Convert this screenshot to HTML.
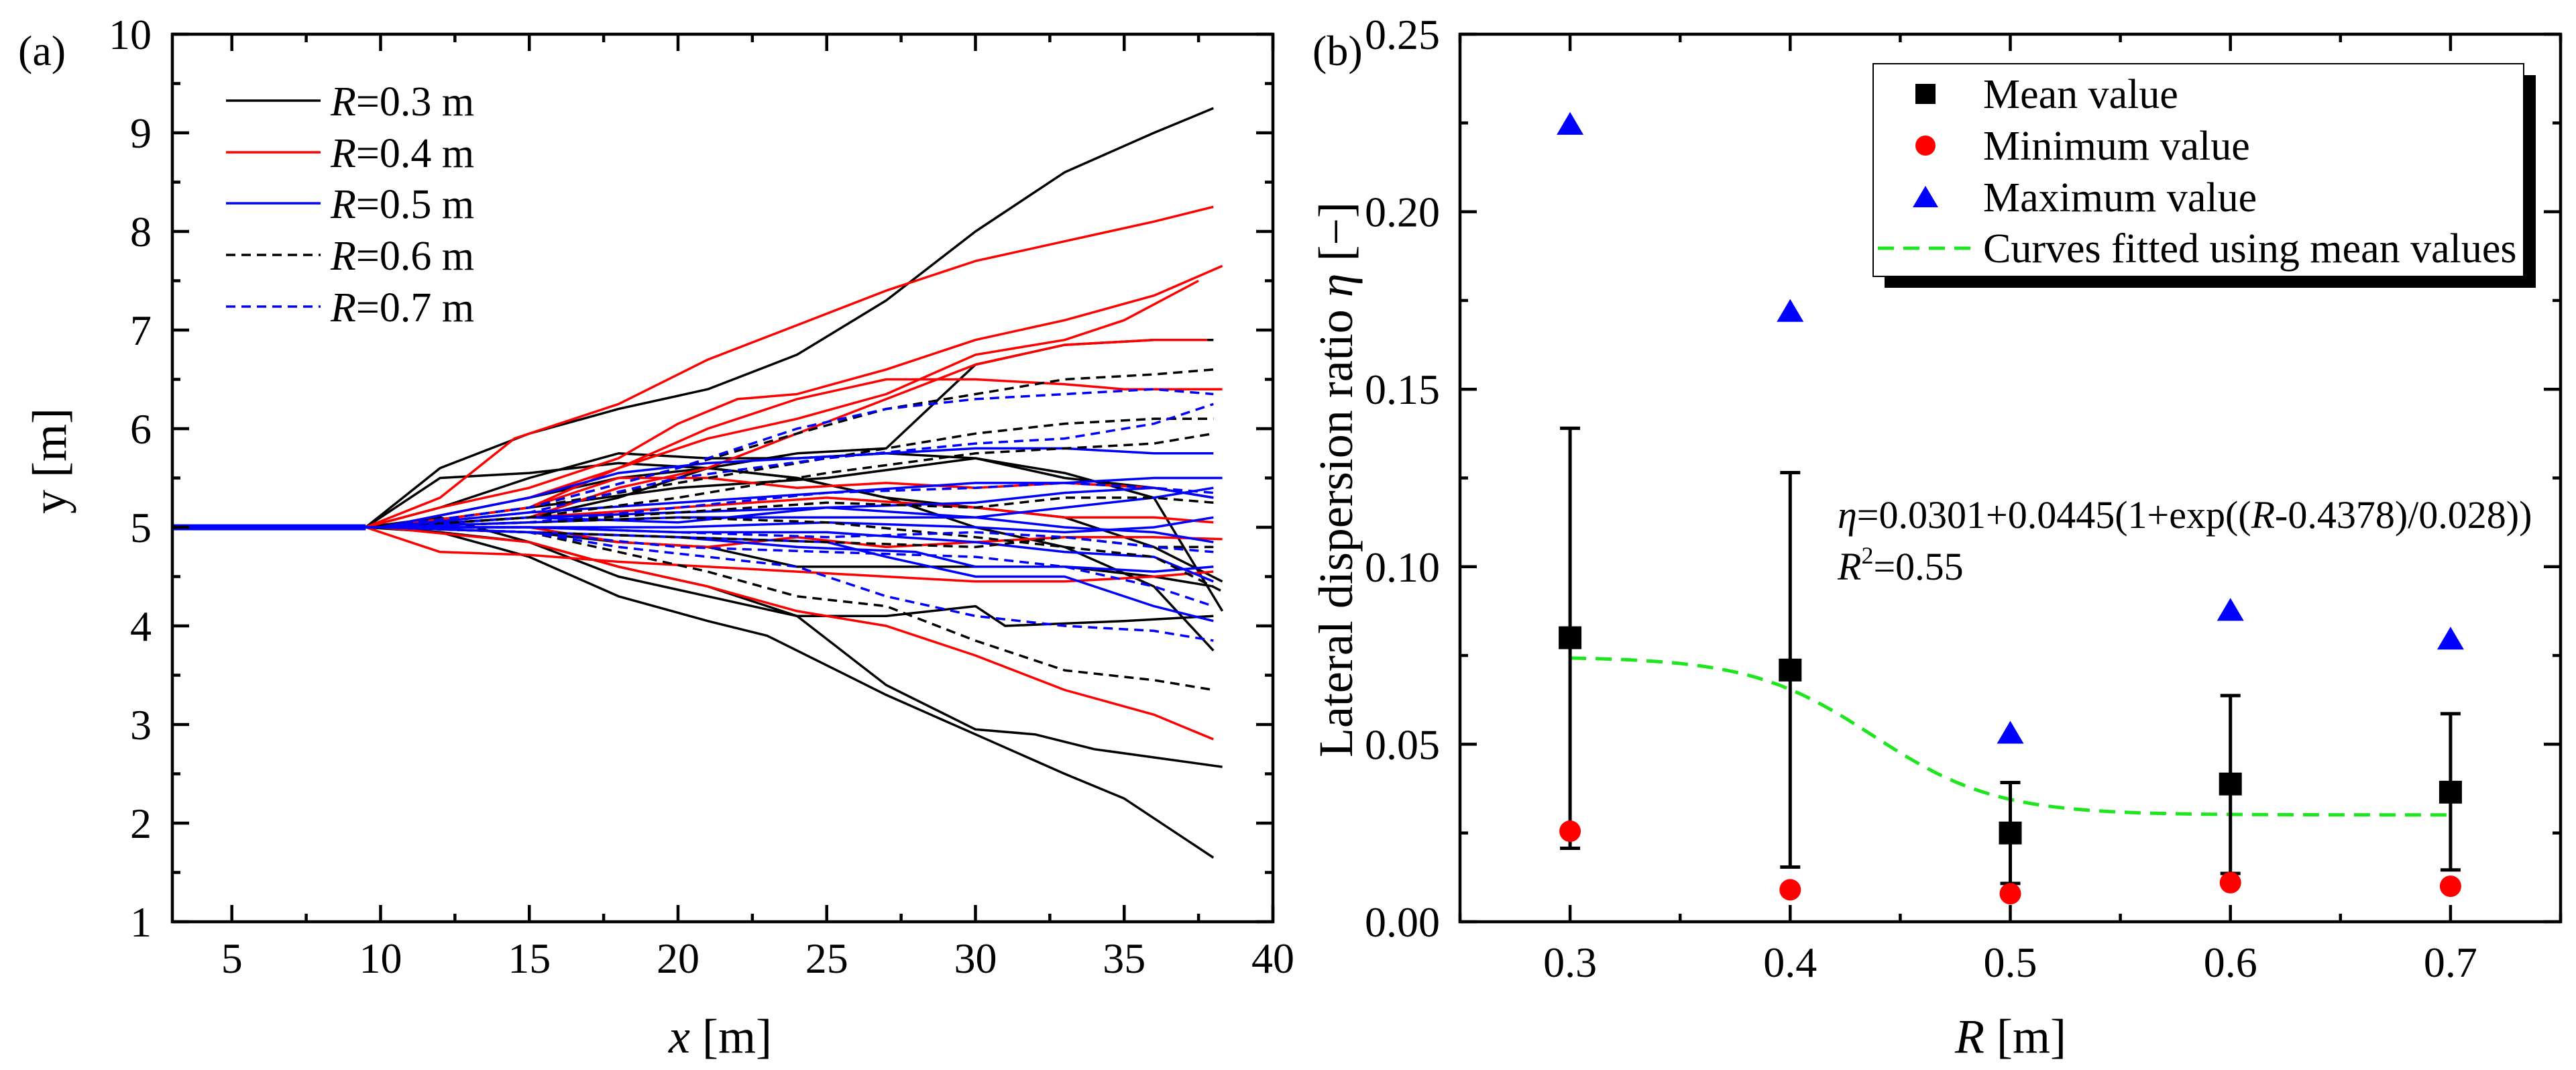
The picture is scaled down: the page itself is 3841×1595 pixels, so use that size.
<!DOCTYPE html>
<html><head><meta charset="utf-8"><style>
html,body{margin:0;padding:0;background:#fff;}
svg{display:block;font-family:"Liberation Serif",serif;}
</style></head><body>
<svg id="fig" width="3841" height="1595" viewBox="0 0 3841 1595" xmlns="http://www.w3.org/2000/svg">
<rect x="0" y="0" width="3841" height="1595" fill="#fff"/>
<g id="pa"></g>
<g id="pb"></g>
</svg>
<script>
// ---------- Panel (a) data: trajectories [x, y] ----------
const blackSolid = [
 [[3,5],[9.5,5],[12,5.6],[15,5.95],[18,6.2],[21,6.4],[24,6.75],[27,7.3],[30,8.0],[33,8.6],[36,9.0],[38,9.25]],
 [[3,5],[9.5,5],[12,4.95],[15,4.7],[18,4.3],[21,4.05],[23,3.9],[27,3.3],[30,2.9],[33,2.5],[35,2.25],[38,1.65]],
 [[3,5],[9.5,5],[12,4.95],[15,4.85],[18,4.5],[21,4.3],[24,4.1],[27,3.4],[30,2.95],[32,2.9],[34,2.75],[38.3,2.57]],
 [[3,5],[9.5,5],[12,5.5],[15,5.55],[18,5.65],[21,5.6],[24,5.75],[27,5.8],[30,6.65],[33,6.85],[36,6.9],[38,6.9]],
 [[3,5],[9.5,5],[12,5.2],[15,5.5],[18,5.75],[21,5.7],[24,5.7],[27,5.75],[30,5.7],[33,5.55],[36,5.3],[38.3,4.15]],
 [[3,5],[9.5,5],[12,5.1],[15,4.85],[18,4.6],[21,4.4],[24,4.1],[27,4.1],[30,4.2],[31,4.0],[35,4.05],[38,4.1]],
 [[3,5],[10,5],[15,5.3],[18,5.5],[21,5.6],[24,5.5],[27,5.3],[30,5.0],[33,4.8],[36,4.4],[38,3.75]],
 [[3,5],[10,5],[15,5.1],[18,5.3],[21,5.6],[24,5.5],[27,5.3],[30,5.2],[33,5.1],[36,4.8],[38.3,4.45]],
 [[3,5],[10,5],[15,4.95],[18,4.85],[21,4.8],[24,4.6],[27,4.6],[30,4.6],[33,4.6],[36,4.5],[38,4.4]],
 [[3,5],[10,5],[15,5.2],[20,5.4],[25,5.5],[30,5.7],[33,5.5],[36,5.4],[38,5.3]]
];
const redSolid = [
 [[3,5],[9.5,5],[12,5.3],[14.5,5.9],[18,6.25],[21,6.7],[24,7.05],[27,7.4],[30,7.7],[33,7.9],[36,8.1],[38,8.25]],
 [[3,5],[9.5,5],[12,5.2],[15,5.4],[18,5.7],[20,6.05],[22,6.3],[24,6.35],[27,6.6],[30,6.9],[33,7.1],[36,7.35],[38.3,7.65]],
 [[3,5],[10,5],[15,5.3],[18,5.6],[21,5.9],[24,6.1],[27,6.35],[30,6.75],[33,6.9],[35,7.1],[37.5,7.5]],
 [[3,5],[10,5],[15,5.2],[18,5.6],[21,6.0],[24,6.3],[27,6.5],[30,6.5],[33,6.45],[35,6.4],[38.3,6.4]],
 [[3,5],[10,5],[15,5.1],[18,5.4],[21,5.6],[24,5.95],[27,6.3],[30,6.65],[33,6.85],[36,6.9],[37.8,6.9]],
 [[3,5],[9.5,5],[12,4.75],[15,4.72],[18,4.65],[21,4.6],[24,4.55],[27,4.5],[30,4.45],[33,4.45],[36,4.5],[38,4.55]],
 [[3,5],[10,5],[15,4.85],[18,4.6],[21,4.4],[24,4.15],[27,4.0],[30,3.7],[33,3.35],[36,3.1],[38,2.85]],
 [[3,5],[10,5],[15,5.2],[18,5.5],[21,5.5],[24,5.4],[27,5.45],[30,5.4],[33,5.45],[36,5.4],[38,5.3]],
 [[3,5],[10,5],[15,5.0],[18,4.85],[21,4.8],[24,4.9],[27,4.8],[30,4.85],[33,4.9],[36,4.9],[38.3,4.88]],
 [[3,5],[10,5],[15,5.1],[20,5.2],[25,5.3],[30,5.2],[33,5.1],[36,5.1],[38,5.05]]
];
const blueSolid = [
 [[3,5],[10,5],[15,5.3],[18,5.55],[21,5.65],[24,5.7],[27,5.75],[30,5.8],[33,5.8],[36,5.75],[38,5.75]],
 [[3,5],[10,5],[15,5.15],[20,5.25],[25,5.35],[30,5.45],[33,5.45],[36,5.5],[38.3,5.5]],
 [[3,5],[10,5],[15,5.1],[20,5.15],[25,5.2],[30,5.25],[33,5.35],[36,5.4],[38,5.3]],
 [[3,5],[10,5],[15,4.95],[20,4.9],[25,4.85],[27,4.7],[30,4.5],[33,4.5],[36,4.2],[38,4.05]],
 [[3,5],[10,5],[15,5.0],[20,4.95],[25,4.95],[30,4.85],[33,4.75],[36,4.7],[38,4.45]],
 [[3,5],[10,5],[15,5.05],[20,5.1],[25,5.1],[30,5.1],[33,5.0],[36,4.95],[38,4.85]],
 [[3,5],[10,5],[15,4.95],[20,4.9],[24,4.8],[28,4.75],[30,4.6],[33,4.6],[36,4.55],[38,4.6]],
 [[3,5],[10,5],[15,5.1],[20,5.05],[25,5.2],[30,5.1],[33,5.2],[36,5.3],[38,5.4]],
 [[3,5],[10,5],[15,5.0],[20,5.0],[25,5.05],[30,5.0],[33,4.95],[36,5.0],[38,5.1]]
];
const blackDashed = [
 [[3,5],[10,5],[15,5.2],[20,5.6],[24,5.95],[27,6.2],[30,6.35],[33,6.5],[36,6.55],[38,6.6]],
 [[3,5],[10,5],[15,5.2],[20,5.45],[25,5.7],[30,5.95],[33,6.05],[36,6.1],[38,6.1]],
 [[3,5],[10,5],[15,4.95],[18,4.75],[21,4.55],[24,4.3],[27,4.2],[30,3.85],[33,3.55],[36,3.45],[38,3.35]],
 [[3,5],[10,5],[15,5.1],[20,5.3],[25,5.55],[30,5.75],[33,5.8],[36,5.85],[38,5.95]],
 [[3,5],[10,5],[15,5.05],[20,5.1],[25,5.05],[30,4.9],[33,4.8],[36,4.7],[38.3,4.35]],
 [[3,5],[10,5],[15,5.05],[20,5.15],[25,5.25],[30,5.2],[33,5.3],[36,5.3],[38,5.25]],
 [[3,5],[10,5],[15,4.95],[20,4.9],[25,4.85],[30,4.8],[33,4.9],[36,4.8],[38,4.8]]
];
const blueDashed = [
 [[3,5],[10,5],[15,5.2],[20,5.6],[24,6.0],[27,6.2],[30,6.3],[33,6.35],[36,6.4],[38,6.35]],
 [[3,5],[10,5],[15,5.15],[20,5.5],[25,5.7],[30,5.85],[33,5.9],[36,6.05],[38,6.25]],
 [[3,5],[10,5],[15,4.95],[18,4.8],[21,4.7],[24,4.6],[27,4.3],[30,4.1],[33,4.0],[36,3.95],[38,3.85]],
 [[3,5],[10,5],[15,4.95],[20,4.8],[25,4.75],[30,4.7],[33,4.6],[36,4.4],[38,4.2]],
 [[3,5],[10,5],[15,5.05],[20,5.2],[25,5.35],[30,5.4],[33,5.45],[36,5.4],[38,5.35]],
 [[3,5],[10,5],[15,5.0],[20,4.95],[25,4.9],[30,4.95],[33,4.9],[36,4.8],[38,4.75]]
];
const aXTicks = [5,10,15,20,25,30,35,40];
const aYTicks = [1,2,3,4,5,6,7,8,9,10];
const aLegendLabels = ["0.3","0.4","0.5","0.6","0.7"];

// ---------- Panel (b) data ----------
const radii = [0.3,0.4,0.5,0.6,0.7];
const meanVals = [0.080,0.0709,0.025,0.0388,0.0365];
const errHigh = [0.139,0.1265,0.0392,0.0637,0.0586];
const errLow = [0.0207,0.0154,0.0108,0.0136,0.0146];
const minVals = [0.0255,0.009,0.0079,0.011,0.010];
const maxVals = [0.2247,0.172,0.0532,0.0878,0.0797];
const fitParams = [0.0301,0.0445,0.4378,0.028];
const bXTicks = [0.3,0.4,0.5,0.6,0.7];
const bYTicks = [0,0.05,0.10,0.15,0.20,0.25];
const bYTickLabels = ["0.00","0.05","0.10","0.15","0.20","0.25"];

const NS="http://www.w3.org/2000/svg";
function mk(parent,tag,attrs){const e=document.createElementNS(NS,tag);for(const k in attrs)e.setAttribute(k,attrs[k]);parent.appendChild(e);return e;}

// ===== Panel A =====
const pa=document.getElementById('pa');
const AL=257,AR=1898,AT=51,AB=1374;
const ax=v=>AL+(v-3)/37*(AR-AL);
const ay=v=>AB-(v-1)/9*(AB-AT);
function drawTraj(arr,color,dash,name){
  arr.forEach((tr,i)=>{
    const d=tr.map((p,j)=>(j?'L':'M')+ax(p[0]).toFixed(1)+' '+ay(p[1]).toFixed(1)).join(' ');
    const p=mk(pa,'path',{d:d,fill:'none',stroke:color,'stroke-width':3.5,'stroke-linejoin':'round'});
    if(dash)p.setAttribute('stroke-dasharray',dash);
    
    
  });
}
drawTraj(blackSolid,'#000',null,'trajectory-r03');
drawTraj(redSolid,'#f00',null,'trajectory-r04');
drawTraj(blueSolid,'#00f',null,'trajectory-r05');
drawTraj(blackDashed,'#000','14 9','trajectory-r06');
drawTraj(blueDashed,'#00f','14 9','trajectory-r07');
// thick start segment
const st=mk(pa,'line',{x1:ax(3),y1:ay(5),x2:ax(9.5),y2:ay(5),stroke:'#00f','stroke-width':9});



// frame & ticks
const fa=mk(pa,'rect',{x:AL,y:AT,width:AR-AL,height:AB-AT,fill:'none',stroke:'#000','stroke-width':4.5});


for(let v=2.5;v<=40;v+=2.5){
  if(v<3)continue;
  const maj=(v%5===0), L=maj?25:12, x=ax(v);
  mk(pa,'line',{x1:x,y1:AB,x2:x,y2:AB-L,stroke:'#000','stroke-width':4.5});
  mk(pa,'line',{x1:x,y1:AT,x2:x,y2:AT+L,stroke:'#000','stroke-width':4.5});
}
for(let v=1;v<=10;v+=0.5){
  const maj=Number.isInteger(v), L=maj?25:12, y=ay(v);
  mk(pa,'line',{x1:AL,y1:y,x2:AL+L,y2:y,stroke:'#000','stroke-width':4.5});
  mk(pa,'line',{x1:AR,y1:y,x2:AR-L,y2:y,stroke:'#000','stroke-width':4.5});
}
aXTicks.forEach(v=>{
  const t=mk(pa,'text',{x:ax(v),y:1450,'font-size':64,'text-anchor':'middle'});t.textContent=v;
  
  
});
aYTicks.forEach(v=>{
  const t=mk(pa,'text',{x:226,y:ay(v)+22,'font-size':64,'text-anchor':'end'});t.textContent=v;
  
  
});
// titles
let t=mk(pa,'text',{x:1074,y:1569,'font-size':72,'text-anchor':'middle'});
t.innerHTML='<tspan font-style="italic">x</tspan> [m]';


t=mk(pa,'text',{x:0,y:0,'font-size':72,'text-anchor':'middle',transform:'translate(98,687) rotate(-90)'});
t.textContent='y [m]';


t=mk(pa,'text',{x:27,y:97,'font-size':64});t.textContent='(a)';


// legend a
const legStyles=[['#000',null],['#f00',null],['#00f',null],['#000','14 9'],['#00f','14 9']];
const legY=[150,227,303,380,457];
aLegendLabels.forEach((lab,i)=>{
  const g=mk(pa,'g',{});
  
  
  const l=mk(g,'line',{x1:337,y1:legY[i],x2:478,y2:legY[i],stroke:legStyles[i][0],'stroke-width':3.5});
  if(legStyles[i][1])l.setAttribute('stroke-dasharray',legStyles[i][1]);
  const tx=mk(g,'text',{x:493,y:legY[i]+22,'font-size':62});
  tx.innerHTML='<tspan font-style="italic">R</tspan>='+lab+' m';
});

// ===== Panel B =====
const pb=document.getElementById('pb');
const BL=2177,BR=3818,BT=51,BB=1374;
const bx=v=>BL+(v-0.25)/0.5*(BR-BL);
const by=v=>BB-v/0.25*(BB-BT);
// frame
const fb=mk(pb,'rect',{x:BL,y:BT,width:BR-BL,height:BB-BT,fill:'none',stroke:'#000','stroke-width':4.5});


for(let i=0;i<=10;i++){
  const v=0.25+i*0.05, maj=(i%2===1), L=maj?25:12, x=bx(v);
  mk(pb,'line',{x1:x,y1:BB,x2:x,y2:BB-L,stroke:'#000','stroke-width':4.5});
  mk(pb,'line',{x1:x,y1:BT,x2:x,y2:BT+L,stroke:'#000','stroke-width':4.5});
}
for(let i=0;i<=10;i++){
  const v=i*0.025, maj=(i%2===0), L=maj?25:12, y=by(v);
  mk(pb,'line',{x1:BL,y1:y,x2:BL+L,y2:y,stroke:'#000','stroke-width':4.5});
  mk(pb,'line',{x1:BR,y1:y,x2:BR-L,y2:y,stroke:'#000','stroke-width':4.5});
}
bXTicks.forEach(v=>{
  const tt=mk(pb,'text',{x:bx(v),y:1456,'font-size':64,'text-anchor':'middle'});tt.textContent=v.toFixed(1);
  
  
});
bYTicks.forEach((v,i)=>{
  const tt=mk(pb,'text',{x:2147,y:by(v)+22,'font-size':64,'text-anchor':'end'});tt.textContent=bYTickLabels[i];
  
  
});
t=mk(pb,'text',{x:2998,y:1569,'font-size':72,'text-anchor':'middle'});
t.innerHTML='<tspan font-style="italic">R</tspan> [m]';


t=mk(pb,'text',{x:0,y:0,'font-size':72,'text-anchor':'middle',transform:'translate(2016,715) rotate(-90)'});
t.innerHTML='Lateral dispersion ratio <tspan font-style="italic">η</tspan> [−]';


t=mk(pb,'text',{x:1957,y:97,'font-size':64});t.textContent='(b)';



// fitted curve
let fd='';
for(let r=0.3;r<=0.7001;r+=0.005){
  const e=fitParams[0]+fitParams[1]/(1+Math.exp((r-fitParams[2])/fitParams[3]));
  fd+=(fd?'L':'M')+bx(r).toFixed(1)+' '+by(e).toFixed(1)+' ';
}
const fc=mk(pb,'path',{d:fd,fill:'none',stroke:'#1ee61e','stroke-width':5,'stroke-dasharray':'24 14'});



radii.forEach((r,i)=>{
  const x=bx(r);
  const g=mk(pb,'g',{});
  
  
  mk(g,'line',{x1:x,y1:by(errHigh[i]),x2:x,y2:by(errLow[i]),stroke:'#000','stroke-width':5});
  mk(g,'line',{x1:x-15,y1:by(errHigh[i]),x2:x+15,y2:by(errHigh[i]),stroke:'#000','stroke-width':5});
  mk(g,'line',{x1:x-15,y1:by(errLow[i]),x2:x+15,y2:by(errLow[i]),stroke:'#000','stroke-width':5});
  const m=mk(pb,'rect',{x:x-17,y:by(meanVals[i])-17,width:34,height:34,fill:'#000'});
  
  
  const c=mk(pb,'circle',{cx:x,cy:by(minVals[i]),r:16,fill:'#f00'});
  
  
  const ty=by(maxVals[i]);
  const tr=mk(pb,'polygon',{points:`${x},${ty-18} ${x-20},${ty+16} ${x+20},${ty+16}`,fill:'#00f'});
  
  
});

// annotation
t=mk(pb,'text',{x:2740,y:787,'font-size':58});
t.innerHTML='<tspan font-style="italic">η</tspan>=0.0301+0.0445(1+exp((<tspan font-style="italic">R</tspan>-0.4378)/0.028))';


t=mk(pb,'text',{x:2740,y:864,'font-size':58});
t.innerHTML='<tspan font-style="italic">R</tspan><tspan font-size="36" dy="-24">2</tspan><tspan dy="24">=0.55</tspan>';



// legend b
const lg=mk(pb,'g',{});


mk(lg,'rect',{x:2810,y:112,width:971,height:317,fill:'#000'});
mk(lg,'rect',{x:2793,y:95,width:970,height:317,fill:'#fff',stroke:'#000','stroke-width':2});
const lrow=[140,217,294,370];
const lnames=['Mean value','Minimum value','Maximum value','Curves fitted using mean values'];
lnames.forEach((n,i)=>{
  const g=mk(lg,'g',{});
  
  
  const y=lrow[i], x=2871;
  if(i===0)mk(g,'rect',{x:x-15,y:y-15,width:30,height:30,fill:'#000'});
  if(i===1)mk(g,'circle',{cx:x,cy:y,r:15,fill:'#f00'});
  if(i===2)mk(g,'polygon',{points:`${x},${y-17} ${x-19},${y+15} ${x+19},${y+15}`,fill:'#00f'});
  if(i===3)mk(g,'line',{x1:2800,y1:y,x2:2945,y2:y,stroke:'#1ee61e','stroke-width':5,'stroke-dasharray':'24 14'});
  const tx=mk(g,'text',{x:2957,y:y+21,'font-size':62});tx.textContent=n;
});
</script>
</body></html>
